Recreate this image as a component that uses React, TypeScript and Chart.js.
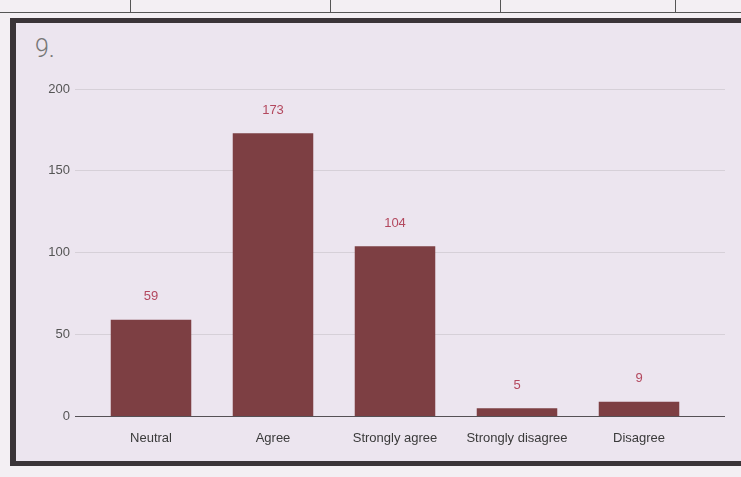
import React, { useEffect, useRef } from "react";
import { Chart, registerables } from "chart.js";

Chart.register(...registerables);

const categories = ["Neutral", "Agree", "Strongly agree", "Strongly disagree", "Disagree"];
const counts = [59, 173, 104, 5, 9];
const yTicks = [0, 50, 100, 150, 200];
const questionLabel = "9.";

const BAR = "#7d3f43";
const VALUE = "#b3485e";
const FONT = "Arial, 'Liberation Sans', sans-serif";

const valueLabels = {
  id: "valueLabels",
  afterDatasetsDraw(chart: any) {
    const ctx = chart.ctx;
    const meta = chart.getDatasetMeta(0);
    ctx.save();
    ctx.font = "13px " + FONT;
    ctx.fillStyle = VALUE;
    ctx.textAlign = "center";
    ctx.textBaseline = "middle";
    meta.data.forEach((bar: any, i: number) => {
      ctx.fillText(String(chart.data.datasets[0].data[i]), bar.x, bar.y - 23);
    });
    ctx.restore();
  },
};

const gridExtend = {
  id: "gridExtend",
  beforeDatasetsDraw(chart: any) {
    const ctx = chart.ctx;
    const y = chart.scales.y;
    const area = chart.chartArea;
    ctx.save();
    y.ticks.forEach((t: any) => {
      const py = Math.round(y.getPixelForValue(t.value) - 0.5) + 0.5;
      ctx.strokeStyle = t.value === 0 ? "#555055" : "#d6d0d8";
      ctx.lineWidth = 1;
      ctx.beginPath();
      ctx.moveTo(area.right, py);
      ctx.lineTo(725, py);
      ctx.stroke();
    });
    ctx.restore();
  },
};

export default function App() {
  const ref = useRef<HTMLCanvasElement>(null);
  useEffect(() => {
    const chart = new Chart(ref.current!, {
      type: "bar",
      data: {
        labels: categories,
        datasets: [
          {
            data: counts,
            backgroundColor: BAR,
            barPercentage: 0.66,
            categoryPercentage: 1,
          },
        ],
      },
      options: {
        responsive: false,
        animation: false,
        layout: { padding: { top: 89, right: 41, bottom: 25, left: 0 } },
        plugins: { legend: { display: false }, tooltip: { enabled: false } },
        scales: {
          x: {
            grid: { display: false },
            border: { display: false },
            ticks: {
              color: "#3a3a3a",
              padding: 6,
              font: { family: FONT, size: 13 },
            },
          },
          y: {
            min: 0,
            max: 200,
            afterFit: (s: any) => {
              s.width = 90;
            },
            afterBuildTicks: (s: any) => {
              s.ticks = yTicks.map((v) => ({ value: v }));
            },
            border: { display: false },
            grid: {
              color: (c: any) => (c.tick && c.tick.value === 0 ? "#555055" : "#d6d0d8"),
              tickLength: 15,
            },
            ticks: {
              color: "#555",
              padding: 5,
              font: { family: FONT, size: 13 },
            },
          },
        },
      },
      plugins: [gridExtend, valueLabels],
    });
    return () => chart.destroy();
  }, []);

  return (
    <div style={{ position: "fixed", left: 0, top: 0, width: 741, height: 477, background: "#f3eff3", overflow: "hidden" }}>
      <div style={{ position: "absolute", left: 0, top: 0, width: 741, height: 12, borderBottom: "1px solid #555" }}>
        {[130, 330, 500, 675].map((x) => (
          <div key={x} style={{ position: "absolute", left: x, top: 0, width: 1, height: 12, background: "#555" }} />
        ))}
      </div>
      <div
        style={{
          position: "absolute",
          left: 10,
          top: 18,
          width: 760,
          height: 438,
          background: "#ece5ef",
          borderLeft: "6px solid #3a3438",
          borderTop: "5px solid #3a3438",
          borderBottom: "5px solid #3a3438",
        }}
      />
      <div
        style={{
          position: "absolute",
          left: 35,
          top: 34,
          fontFamily: "Roboto, sans-serif",
          fontWeight: 300,
          fontSize: 25,
          color: "#777",
        }}
      >
        {questionLabel}
      </div>
      <canvas ref={ref} width={741} height={477} style={{ position: "absolute", left: 0, top: 0 }} />
    </div>
  );
}
